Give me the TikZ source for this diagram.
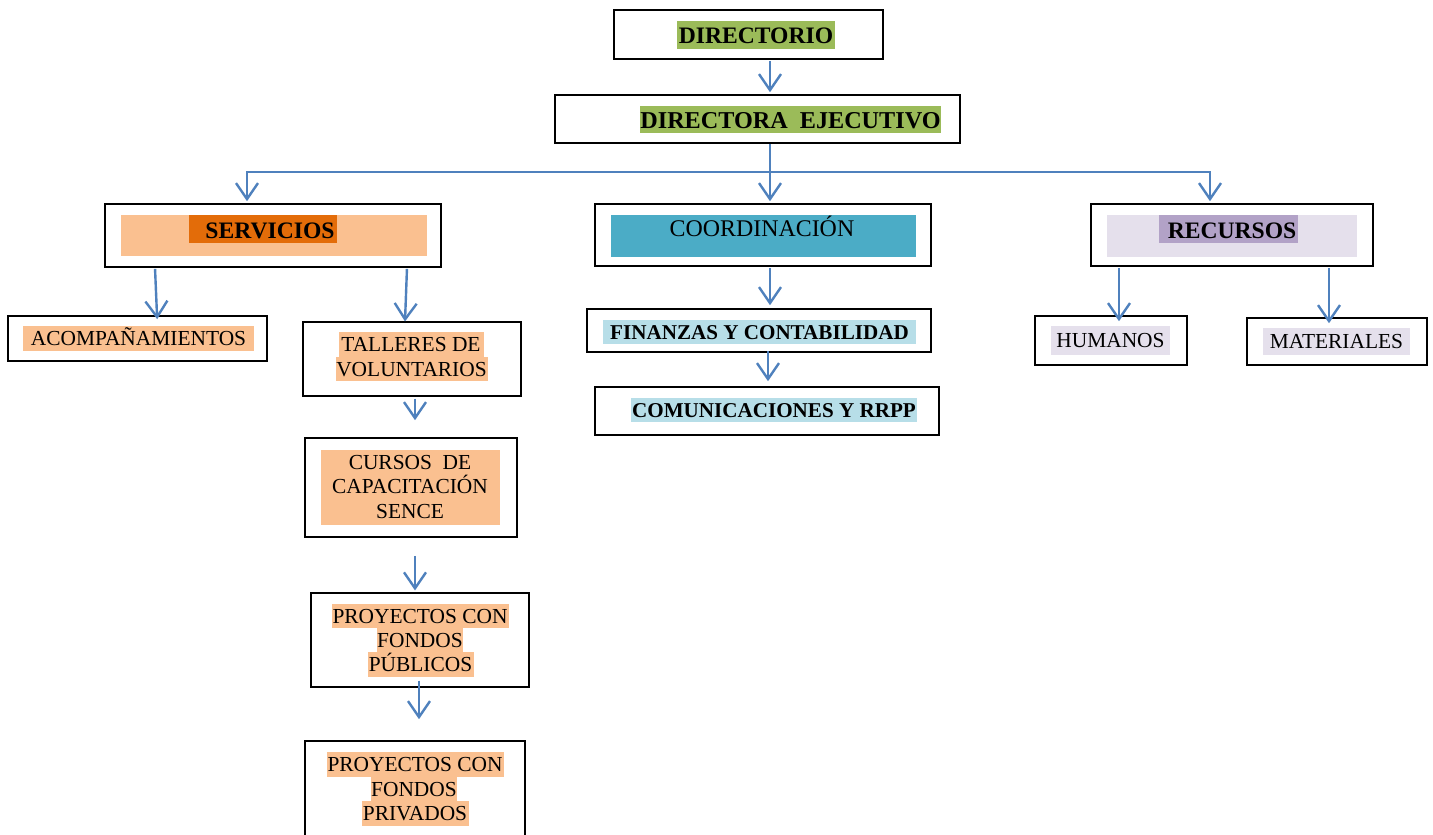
\documentclass[tikz,border=0pt]{standalone}
\usepackage{fontspec}
\setmainfont{Liberation Serif}
\usetikzlibrary{arrows.meta}
\definecolor{gr}{HTML}{9BBB59}
\definecolor{lor}{HTML}{FAC090}
\definecolor{dor}{HTML}{E36C09}
\definecolor{tealc}{HTML}{4BACC6}
\definecolor{lbl}{HTML}{B7DEE8}
\definecolor{lav}{HTML}{E5E0EC}
\definecolor{dlav}{HTML}{B2A2C7}
\definecolor{arrc}{HTML}{4F81BD}
\tikzset{
  box/.style n args={2}{draw=black, line width=1.6pt, minimum width=#1, minimum height=#2, inner sep=0pt},
  fillr/.style n args={3}{fill=#1, draw=none, minimum width=#2, minimum height=#3, inner sep=0pt},
  rt/.style={font=\fontsize{21.4}{24.5}\selectfont, inner sep=0pt, text height=14.7pt, text depth=0pt},
  bt/.style={font=\bfseries\fontsize{23.6}{28}\selectfont, inner sep=0pt, text height=17pt, text depth=0pt},
  bts/.style={font=\bfseries\fontsize{21.1}{24}\selectfont, inner sep=0pt, text height=14.5pt, text depth=0pt},
  conn/.style={draw=arrc, line width=2.4pt},
  arr/.style={conn, -{Straight Barb[length=16pt, width=22pt, line width=2.4pt]}},
}
\begin{document}
\begin{tikzpicture}[x=1pt, y=-1pt]
\clip (0,0) rectangle (1433,835);
\fill[white] (0,0) rectangle (1433,835);

% Top
\node[box={269pt}{49pt}] (dir) at (748.5,34.5) {};
\node[fillr={gr}{158pt}{28pt}, bt] (dirt) at (756,35) {DIRECTORIO};
\node[box={405pt}{48pt}] (dirE) at (757.5,119) {};
\node[fillr={gr}{299pt}{27pt}, bt, font=\bfseries\fontsize{24.2}{28}\selectfont] (dirEt) at (790.5,119.5) {DIRECTORA\ \ EJECUTIVO};

% Level 2
\node[box={336pt}{63pt}] (serv) at (273,235.5) {};
\node[fillr={lor}{306pt}{41pt}] (servl) at (274,235.5) {};
\node[fillr={dor}{148pt}{28pt}] (servd) at (263,229) {};
\node[bt, text height=16pt] (servt) at (270,230) {SERVICIOS};

\node[box={336pt}{62pt}] (coord) at (763,235) {};
\node[fillr={tealc}{305pt}{42pt}] (coordf) at (763.5,236) {};
\node[rt, font=\fontsize{23.9}{26}\selectfont, text height=15.8pt] (coordt) at (762,229) {COORDINACIÓN};

\node[box={282pt}{62pt}] (rec) at (1232,235) {};
\node[fillr={lav}{250pt}{42pt}] (recl) at (1232,236) {};
\node[fillr={dlav}{139pt}{28pt}] (recd) at (1228.5,229) {};
\node[bt, text height=16pt] (rect) at (1232,230) {RECURSOS};

% Servicios children
\node[box={259pt}{45pt}] (acomp) at (137.5,338.5) {};
\node[fillr={lor}{231pt}{25pt}, rt] (acompt) at (138.5,338.5) {ACOMPAÑAMIENTOS};

\node[box={218pt}{74pt}, line width=1.1pt] (tall) at (412,359) {};
\node[fillr={lor}{145pt}{25pt}, rt] (tall1) at (411,344.5) {TALLERES DE};
\node[fillr={lor}{152pt}{24pt}, rt] (tall2) at (411.5,369) {VOLUNTARIOS};

\node[box={212pt}{99pt}] (cur) at (411,487.5) {};
\node[fillr={lor}{179pt}{75pt}] (curf) at (410.5,487.5) {};
\node[rt] (cur1) at (410,462) {CURSOS\ \ DE};
\node[rt] (cur2) at (410,486.5) {CAPACITACIÓN};
\node[rt] (cur3) at (410,511) {SENCE};

\node[box={218pt}{94pt}, line width=1.1pt] (pub) at (420,640) {};
\node[fillr={lor}{177pt}{24.5pt}, rt] (pub1) at (420,616) {PROYECTOS CON};
\node[fillr={lor}{85pt}{24.5pt}, rt] (pub2) at (420,640) {FONDOS};
\node[fillr={lor}{106pt}{24.5pt}, rt] (pub3) at (420.5,664.5) {PÚBLICOS};

\node[box={220pt}{109pt}] (priv) at (415,795.5) {};
\node[fillr={lor}{177pt}{24.5pt}, rt] (priv1) at (415,764.5) {PROYECTOS CON};
\node[fillr={lor}{85pt}{24.5pt}, rt] (priv2) at (414,789) {FONDOS};
\node[fillr={lor}{107pt}{24.5pt}, rt] (priv3) at (415,813.5) {PRIVADOS};

% Coordinacion children
\node[box={344pt}{43pt}] (fin) at (759,330.5) {};
\node[fillr={lbl}{313pt}{24pt}, bts] (fint) at (759.5,332) {FINANZAS Y CONTABILIDAD};
\node[box={344pt}{48pt}] (com) at (767,411) {};
\node[fillr={lbl}{286pt}{24pt}, bts] (comt) at (774,410) {COMUNICACIONES Y RRPP};

% Recursos children
\node[box={152pt}{49pt}] (hum) at (1111,340.5) {};
\node[fillr={lav}{119pt}{29pt}, rt] (humt) at (1110.5,340.5) {HUMANOS};
\node[box={180pt}{47pt}] (mat) at (1337,341.5) {};
\node[fillr={lav}{147pt}{27pt}, rt] (matt) at (1336.5,341.5) {MATERIALES};

% Connectors
\coordinate (j) at (770,172);
\draw[arr, shorten >=2pt, shorten <=1pt] ([xshift=21.5pt]dir.south) -- ([xshift=12.5pt]dirE.north);
\draw[conn] ([xshift=12.5pt]dirE.south) -- (j);
\draw[arr, shorten >=2pt] (j) -| ([xshift=-26pt]serv.north);
\draw[arr, shorten >=2pt] (j) -- ([xshift=7pt]coord.north);
\draw[arr, shorten >=2pt] (j) -| ([xshift=-22pt]rec.north);

\draw[arr, shorten <=1pt, shorten >=-4pt] ([xshift=-118pt]serv.south) -- ([xshift=19.5pt]acomp.north);
\draw[arr, shorten <=1pt] ([xshift=134pt]serv.south) -- ([xshift=-7pt]tall.north);
\draw[arr, shorten <=2pt, shorten >=17pt] ([xshift=3pt]tall.south) -- ([xshift=4pt]cur.north);
\draw[arr, shorten <=18pt, shorten >=2pt] ([xshift=4pt]cur.south) -- ([xshift=-5pt]pub.north);
\draw[arr, shorten <=-7pt, shorten >=21pt] ([xshift=-1pt]pub.south) -- ([xshift=4pt]priv.north);

\draw[arr, shorten <=1pt, shorten >=3pt] ([xshift=7pt]coord.south) -- ([xshift=11pt]fin.north);
\draw[arr, shorten <=-2pt, shorten >=5pt] ([xshift=9pt]fin.south) -- ([xshift=1pt]com.north);

\draw[arr, shorten <=1pt, shorten >=-6pt] ([xshift=-113pt]rec.south) -- ([xshift=8pt]hum.north);
\draw[arr, shorten <=1pt, shorten >=-6pt] ([xshift=97pt]rec.south) -- ([xshift=-8pt]mat.north);
\end{tikzpicture}
\end{document}
